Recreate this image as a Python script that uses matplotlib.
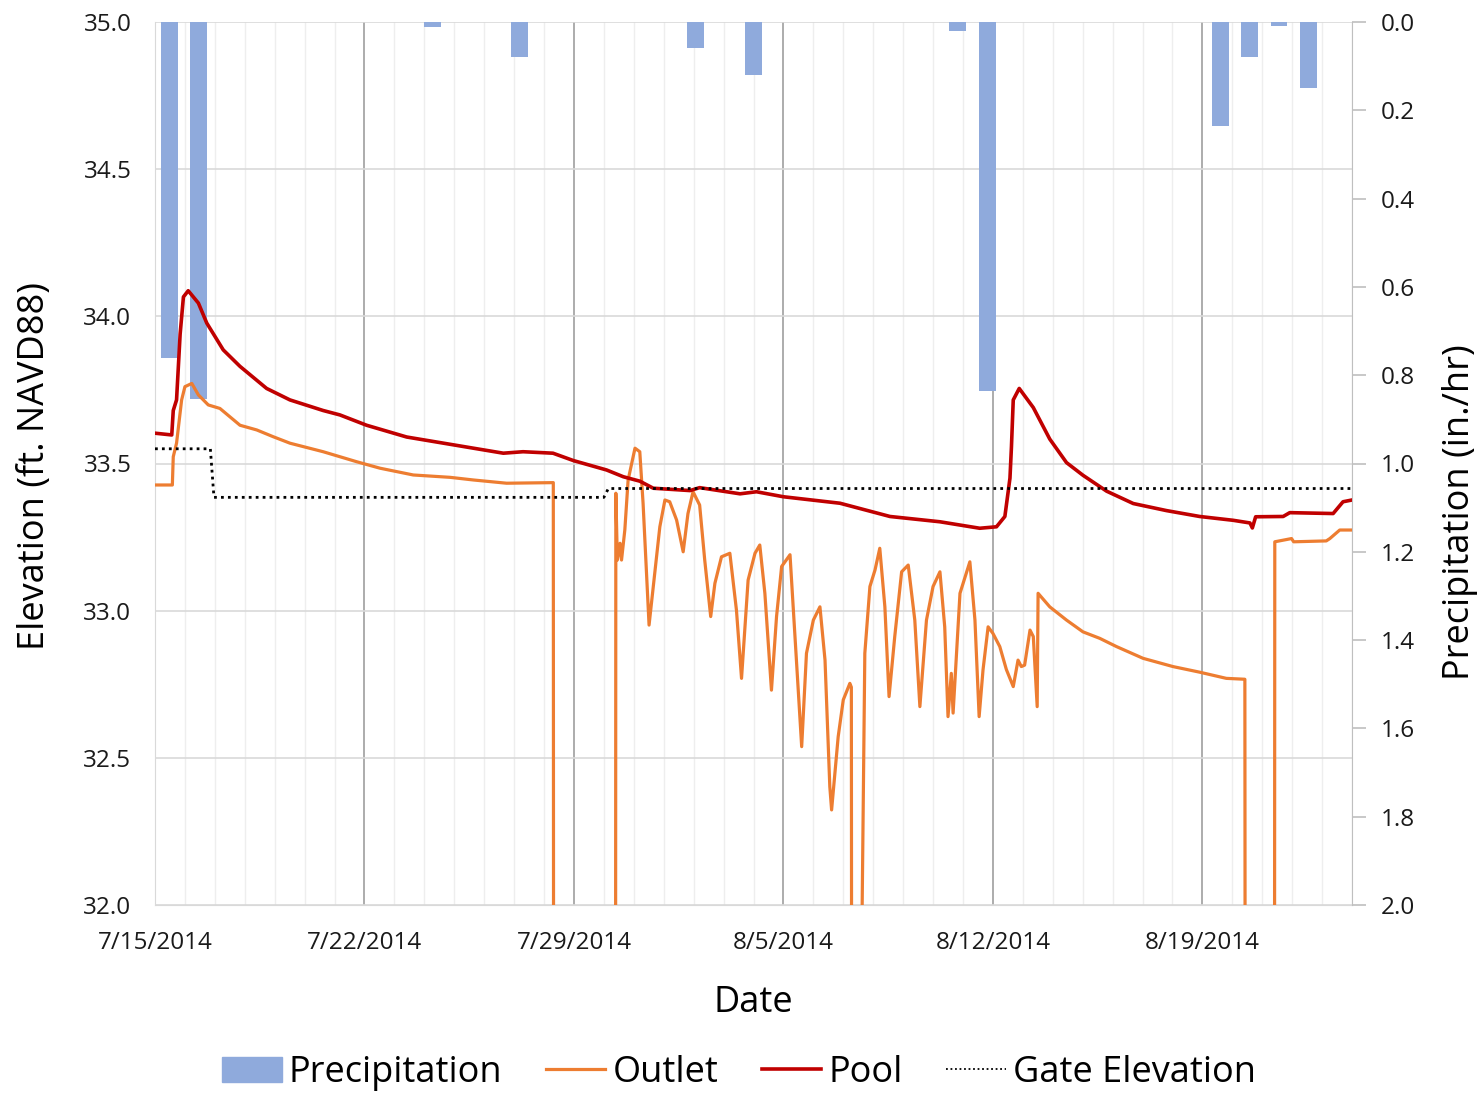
import numpy as np
import matplotlib
matplotlib.use("Agg")
import matplotlib.pyplot as plt
from matplotlib.patches import Patch
from matplotlib.lines import Line2D

plt.rcParams['font.family'] = ['Open Sans', 'DejaVu Sans']

# days since 7/15/2014
tick_days = [0, 7, 14, 21, 28, 35]
tick_labels = ["7/15/2014", "7/22/2014", "7/29/2014", "8/5/2014", "8/12/2014", "8/19/2014"]

# daily precipitation (in./hr), 7/15 .. 8/24
precip = [0.76, 0.855, 0, 0, 0, 0, 0, 0, 0, 0.012, 0, 0, 0.08, 0, 0, 0, 0, 0, 0.06, 0,
          0.12, 0, 0, 0, 0, 0, 0, 0.02, 0.835, 0, 0, 0, 0, 0, 0, 0, 0.235, 0.08, 0.01, 0.15, 0]

pool_t = [0.0, 0.56, 0.61, 0.72, 0.84, 0.95, 1.11, 1.45, 1.73, 2.28, 2.84, 3.73, 4.51, 5.62,
          6.18, 7.07, 8.41, 10.64, 11.64, 12.3, 13.3, 13.98, 15.09, 15.65, 16.2, 16.65, 17.88,
          18.2, 19.55, 20.1, 21.0, 22.89, 24.56, 26.23, 27.56, 28.12, 28.4, 28.57, 28.62, 28.68,
          28.88, 29.35, 29.9, 30.46, 31.01, 31.8, 32.69, 33.8, 34.91, 36.03, 36.59, 36.67, 36.78,
          37.7, 37.92, 39.37, 39.7, 40.0]
pool = [33.603, 33.597, 33.68, 33.716, 33.94, 34.066, 34.087, 34.045, 33.977, 33.886, 33.83,
        33.755, 33.716, 33.68, 33.665, 33.63, 33.59, 33.552, 33.535, 33.54, 33.535, 33.51,
        33.478, 33.455, 33.44, 33.416, 33.408, 33.418, 33.397, 33.404, 33.387, 33.365, 33.32,
        33.302, 33.28, 33.285, 33.32, 33.45, 33.557, 33.716, 33.755, 33.69, 33.583, 33.503,
        33.46, 33.406, 33.364, 33.34, 33.32, 33.307, 33.298, 33.281, 33.319, 33.32, 33.333,
        33.33, 33.37, 33.376]

outlet_t = [0, 0.58, 0.61, 0.72, 0.89, 1.0, 1.23, 1.45, 1.78, 2.17, 2.5, 2.84, 3.4, 3.95, 4.51,
            5.62, 6.74, 7.52, 8.63, 9.86, 10.64, 11.75, 13.31, 13.32, 15.39, 15.4, 15.45, 15.54,
            15.59, 15.7, 15.81, 16.04, 16.2, 16.31, 16.51, 16.71, 16.87, 17.04, 17.2, 17.43,
            17.65, 17.81, 17.98, 18.2, 18.37, 18.57, 18.71, 18.93, 19.21, 19.43, 19.6, 19.82,
            20.05, 20.21, 20.38, 20.6, 20.77, 20.94, 21.22, 21.44, 21.61, 21.77, 22.0, 22.22,
            22.39, 22.55, 22.61, 22.83, 23.0, 23.22, 23.27, 23.28, 23.57, 23.58, 23.72, 23.89,
            24.06, 24.22, 24.39, 24.53, 24.72, 24.95, 25.17, 25.39, 25.56, 25.78, 26.0, 26.23,
            26.39, 26.5, 26.61, 26.67, 26.9, 27.23, 27.4, 27.54, 27.67, 27.84, 28.0, 28.23,
            28.45, 28.68, 28.84, 28.95, 29.06, 29.24, 29.35, 29.48, 29.51, 29.9, 30.46, 31.01,
            31.57, 32.13, 33.02, 34.02, 34.91, 35.8, 36.42, 36.43, 37.41, 37.42, 37.98, 38.05,
            39.14, 39.26, 39.59, 40.0]
outlet = [33.427, 33.427, 33.523, 33.569, 33.716, 33.761, 33.772, 33.733, 33.699, 33.687,
          33.659, 33.63, 33.614, 33.591, 33.569, 33.54, 33.506, 33.484, 33.461, 33.453, 33.444,
          33.433, 33.435, 31.5, 31.5, 33.399, 33.172, 33.229, 33.172, 33.274, 33.444, 33.552,
          33.54, 33.365, 32.951, 33.138, 33.285, 33.376, 33.37, 33.308, 33.2, 33.33, 33.404,
          33.359, 33.172, 32.98, 33.093, 33.183, 33.195, 33.002, 32.77, 33.104, 33.195, 33.223,
          33.059, 32.73, 32.98, 33.15, 33.19, 32.82, 32.538, 32.855, 32.968, 33.013, 32.832,
          32.402, 32.323, 32.572, 32.697, 32.753, 32.74, 31.5, 31.5, 31.5, 32.855, 33.082,
          33.138, 33.212, 33.013, 32.708, 32.912, 33.132, 33.155, 32.968, 32.674, 32.968,
          33.082, 33.132, 32.945, 32.64, 32.787, 32.652, 33.059, 33.166, 32.968, 32.64, 32.799,
          32.945, 32.923, 32.878, 32.8, 32.742, 32.832, 32.81, 32.815, 32.934, 32.912, 32.674,
          33.059, 33.013, 32.968, 32.928, 32.906, 32.878, 32.838, 32.81, 32.791, 32.77, 32.767,
          31.5, 31.5, 33.234, 33.245, 33.234, 33.237, 33.245, 33.274, 33.274]

gate_t = [0, 1.85, 1.97, 15.0, 15.15, 40]
gate = [33.55, 33.55, 33.385, 33.385, 33.415, 33.415]

W, H = 1484, 1095
fig = plt.figure(figsize=(W / 100, H / 100), dpi=100)
rect = [155 / W, 1 - 905 / H, (1352 - 155) / W, (905 - 22) / H]

# base axes: grid, left axis, dates
ax = fig.add_axes(rect)
ax.set_xlim(0, 40)
ax.set_ylim(32, 35)
ax.set_xticks(tick_days)
ax.set_xticklabels(tick_labels)
ax.set_xticks(range(41), minor=True)
ax.set_yticks(np.arange(32, 35.01, 0.5))
ax.set_yticklabels(["%.1f" % v for v in np.arange(32, 35.01, 0.5)])
ax.grid(which='minor', axis='x', color='#EEEEEE', lw=1.0)
ax.grid(which='major', axis='x', color='#A6A6A6', lw=1.3)
ax.grid(which='major', axis='y', color='#D9D9D9', lw=1.2)
ax.set_axisbelow(True)
ax.tick_params(which='both', length=0, labelsize=17.5, labelcolor='#1A1A1A')
ax.tick_params(axis='x', pad=19)
ax.tick_params(axis='y', pad=17)
for s in ['top', 'right']:
    ax.spines[s].set_visible(False)
for s in ['left', 'bottom']:
    ax.spines[s].set_color('#D9D9D9')

# precipitation on its own daily category axis
axb = fig.add_axes(rect)
axb.patch.set_visible(False)
bars = axb.bar(range(len(precip)), precip, width=0.58, color='#8FAADC')
axb.set_xlim(-0.5, len(precip) - 0.5)
axb.set_ylim(2, 0)
axb.xaxis.set_visible(False)
axb.yaxis.tick_right()
axb.set_yticks(np.arange(0, 2.01, 0.2))
axb.set_yticklabels(["%.1f" % v for v in np.arange(0, 2.01, 0.2)])
axb.tick_params(axis='y', length=10, width=1.2, color='#BFBFBF', labelsize=17.5,
                labelcolor='#1A1A1A', pad=11)
for s in ['top', 'left', 'bottom']:
    axb.spines[s].set_visible(False)
axb.spines['right'].set_color('#BFBFBF')

# lines on top
axl = fig.add_axes(rect)
axl.set_xlim(0, 40)
axl.set_ylim(32, 35)
axl.axis('off')
l_out, = axl.plot(outlet_t, outlet, color='#ED7D31', lw=2.3)
l_pool, = axl.plot(pool_t, pool, color='#C00000', lw=2.6)
l_gate, = axl.plot(gate_t, gate, color='black', lw=2.0, ls=(0, (1, 1.5)))

fig.text(35 / W, 1 - 466 / H, "Elevation (ft. NAVD88)", rotation=90, ha='center', va='center',
         fontsize=26)
fig.text(1460 / W, 1 - 512 / H, "Precipitation (in./hr)", rotation=90, ha='center', va='center',
         fontsize=26)
fig.text(753 / W, 1 - 1003 / H, "Date", ha='center', va='center', fontsize=26)

handles = [Patch(color='#8FAADC'),
           Line2D([], [], color='#ED7D31', lw=2.3),
           Line2D([], [], color='#C00000', lw=2.6),
           Line2D([], [], color='black', lw=1.3, ls=(0, (1, 1.5)))]
fig.legend(handles, ["Precipitation", "Outlet", "Pool", "Gate Elevation"], loc='center',
           bbox_to_anchor=(739 / W, 1 - 1073 / H), ncol=4, frameon=False, fontsize=26,
           handlelength=1.65, handletextpad=0.2, columnspacing=1.2)

fig.savefig("out.png", dpi=100)
